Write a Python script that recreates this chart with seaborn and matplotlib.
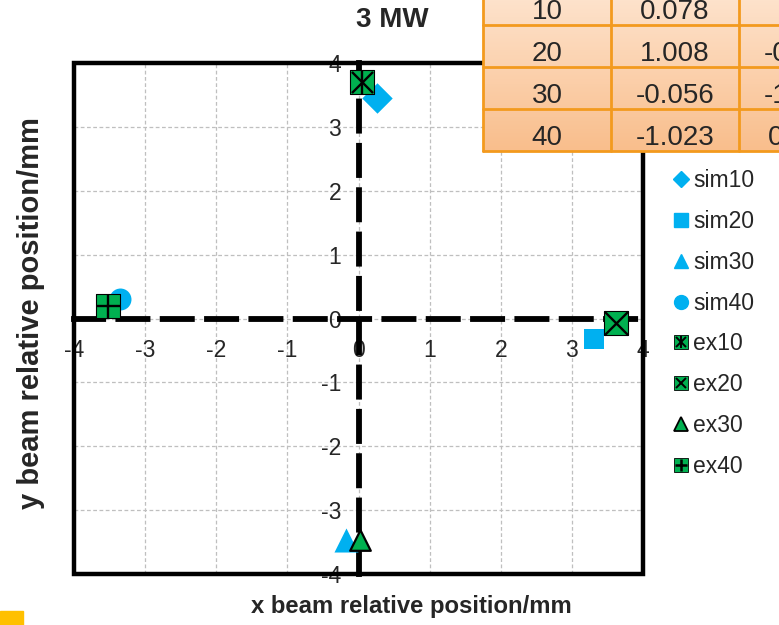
import numpy as np
import pandas as pd
import matplotlib
matplotlib.use("Agg")
import matplotlib.pyplot as plt
import seaborn as sns
from matplotlib.lines import Line2D
from matplotlib.patches import Rectangle
from matplotlib.legend_handler import HandlerTuple
from matplotlib.colors import LinearSegmentedColormap

# ---------------- data ----------------
series_names = ["sim10", "sim20", "sim30", "sim40", "ex10", "ex20", "ex30", "ex40"]
x_vals = [0.26, 3.31, -0.18, -3.35, 0.05, 3.62, 0.02, -3.52]
y_vals = [3.45, -0.32, -3.46, 0.30, 3.70, -0.07, -3.47, 0.20]
tick_vals = [-4, -3, -2, -1, 0, 1, 2, 3, 4]

tbl_col1 = ["10", "20", "30", "40"]
tbl_col2 = ["0.078", "1.008", "-0.056", "-1.023"]
tbl_col3 = ["3.7", "-0.061", "-1.002", "0.985"]

title_text = "3 MW"
xlabel_text = "x beam relative position/mm"
ylabel_text = "y beam relative position/mm"

# ---------------- style ----------------
sns.set_style("white")
plt.rcParams["font.family"] = ["Liberation Sans", "DejaVu Sans"]

SIM = "#00B0F0"
EX = "#00B050"

W, H = 779, 625
fig = plt.figure(figsize=(W / 100, H / 100), dpi=100)
L, R, T, B = 74, 643, 63, 574
ax = fig.add_axes([L / W, 1 - B / H, (R - L) / W, (B - T) / H])
ax.set_xlim(-4, 4)
ax.set_ylim(-4, 4)

# grid
for v in tick_vals:
    ax.axvline(v, color="#BFBFBF", lw=0.9, ls=(0, (3, 2)), zorder=0)
    ax.axhline(v, color="#BFBFBF", lw=0.9, ls=(0, (3, 2)), zorder=0)

# zero axes as dashed spines
for side in ["top", "right"]:
    ax.spines[side].set_visible(False)
for side in ["left", "bottom"]:
    sp = ax.spines[side]
    sp.set_position(("data", 0))
    sp.set_linewidth(4.2)
    sp.set_linestyle((0, (5, 2.6)))
    sp.set_color("black")
    sp.set_zorder(1)

ax.set_xticks(tick_vals)
ax.set_yticks(tick_vals)
ax.set_xticklabels([str(v) for v in tick_vals])
ax.set_yticklabels([str(v) for v in tick_vals])
ax.tick_params(axis="both", direction="inout", length=7, width=2.5, labelsize=16.5, color="black")
ax.tick_params(axis="x", pad=11)
ax.tick_params(axis="y", pad=9)

# outer frame
ax.add_patch(Rectangle((0, 0), 1, 1, transform=ax.transAxes, fill=False,
                       lw=3.2, ec="black", clip_on=False, zorder=5, joinstyle="miter"))

df = pd.DataFrame({"series": series_names, "x": x_vals, "y": y_vals})

def pt(name):
    return df[df.series == name]

# simulation markers
sim_style = {"sim10": ("D", 240), "sim20": ("s", 210), "sim30": ("^", 300), "sim40": ("o", 250)}
for name, (m, s) in sim_style.items():
    sns.scatterplot(data=pt(name), x="x", y="y", marker=m, s=s, color=SIM,
                    edgecolor=SIM, linewidth=0, ax=ax, zorder=3, legend=False)

# experiment markers
for name in ["ex10", "ex20", "ex40"]:
    sns.scatterplot(data=pt(name), x="x", y="y", marker="s", s=290, color=EX,
                    edgecolor="black", linewidth=0.8, ax=ax, zorder=4, legend=False)
r = pt("ex10")
ax.scatter(r.x, r.y, marker="x", s=230, c="black", linewidths=1.7, zorder=6)
ax.scatter(r.x, r.y, marker="|", s=290, c="black", linewidths=1.7, zorder=6)
r = pt("ex20")
ax.scatter(r.x, r.y, marker="x", s=290, c="black", linewidths=1.7, zorder=6)
r = pt("ex40")
ax.scatter(r.x, r.y, marker="+", s=290, c="black", linewidths=1.7, zorder=6)
sns.scatterplot(data=pt("ex30"), x="x", y="y", marker="^", s=220, color=EX,
                edgecolor="black", linewidth=1.6, ax=ax, zorder=4, legend=False)

ax.set_xlabel("")
ax.set_ylabel("")

# titles / labels
fig.text(392 / W, 1 - 20 / H, title_text, ha="center", va="center", fontsize=20, fontweight="bold")
fig.text(411 / W, 1 - 607 / H, xlabel_text, ha="center", va="center", fontsize=17.2, fontweight="bold")
fig.text(31 / W, 1 - 313 / H, ylabel_text, ha="center", va="center", fontsize=21,
         fontweight="bold", rotation=90)

# legend
ms = 10
def sq(col=EX, ec="black"):
    return Line2D([], [], ls="", marker="s", ms=ms, mfc=col, mec=ec, mew=0.6)
h_sim10 = Line2D([], [], ls="", marker="D", ms=ms * 0.8, mfc=SIM, mec=SIM)
h_sim20 = Line2D([], [], ls="", marker="s", ms=ms, mfc=SIM, mec=SIM)
h_sim30 = Line2D([], [], ls="", marker="^", ms=ms, mfc=SIM, mec=SIM)
h_sim40 = Line2D([], [], ls="", marker="o", ms=ms, mfc=SIM, mec=SIM)
h_ex10 = (sq(), Line2D([], [], ls="", marker="x", ms=ms * 0.65, mec="black", mew=1.4),
          Line2D([], [], ls="", marker="|", ms=ms * 0.9, mec="black", mew=1.4))
h_ex20 = (sq(), Line2D([], [], ls="", marker="x", ms=ms * 0.7, mec="black", mew=1.4))
h_ex30 = Line2D([], [], ls="", marker="^", ms=ms, mfc=EX, mec="black", mew=1.3)
h_ex40 = (sq(), Line2D([], [], ls="", marker="+", ms=ms * 0.85, mec="black", mew=1.8))
handles = [h_sim10, h_sim20, h_sim30, h_sim40, h_ex10, h_ex20, h_ex30, h_ex40]
fig.legend(handles, series_names, loc="upper left", bbox_to_anchor=(674 / W, 1 - 169 / H),
           frameon=False, fontsize=16.5, handlelength=0.6, handletextpad=0.25,
           labelspacing=0.78, borderpad=0, borderaxespad=0,
           handler_map={tuple: HandlerTuple(ndivide=1, pad=0)})

# table (top right, partially outside figure)
tl, tr_w, rh = 483, 128, 42
nrows = len(tbl_col1)
tax = fig.add_axes([tl / W, 1 - 151 / H, 3 * tr_w / W, nrows * rh / H])
tax.set_xlim(0, 3)
tax.set_ylim(nrows, 0)
tax.axis("off")
grad = LinearSegmentedColormap.from_list("g", ["#FEE6D2", "#F9BE8C"])
tax.imshow(np.linspace(0, 1, 100).reshape(-1, 1), cmap=grad, aspect="auto",
           extent=[0, 3, nrows, 0], zorder=0)
OR = "#F39A1E"
for i in range(nrows + 1):
    tax.plot([0, 3], [i, i], color=OR, lw=2, zorder=2, clip_on=False)
for j in range(4):
    tax.plot([j, j], [0, nrows], color=OR, lw=2, zorder=2, clip_on=False)
for i in range(nrows):
    for j, col in enumerate([tbl_col1, tbl_col2, tbl_col3]):
        tax.text(j + 0.5, i + 0.68, col[i], ha="center", va="center", fontsize=20, zorder=3)

# small yellow square bottom-left
fig.patches.append(Rectangle((0, 0), 23 / W, 14 / H, transform=fig.transFigure,
                             color="#FFC000", zorder=10))

fig.savefig("out.png", dpi=100)
